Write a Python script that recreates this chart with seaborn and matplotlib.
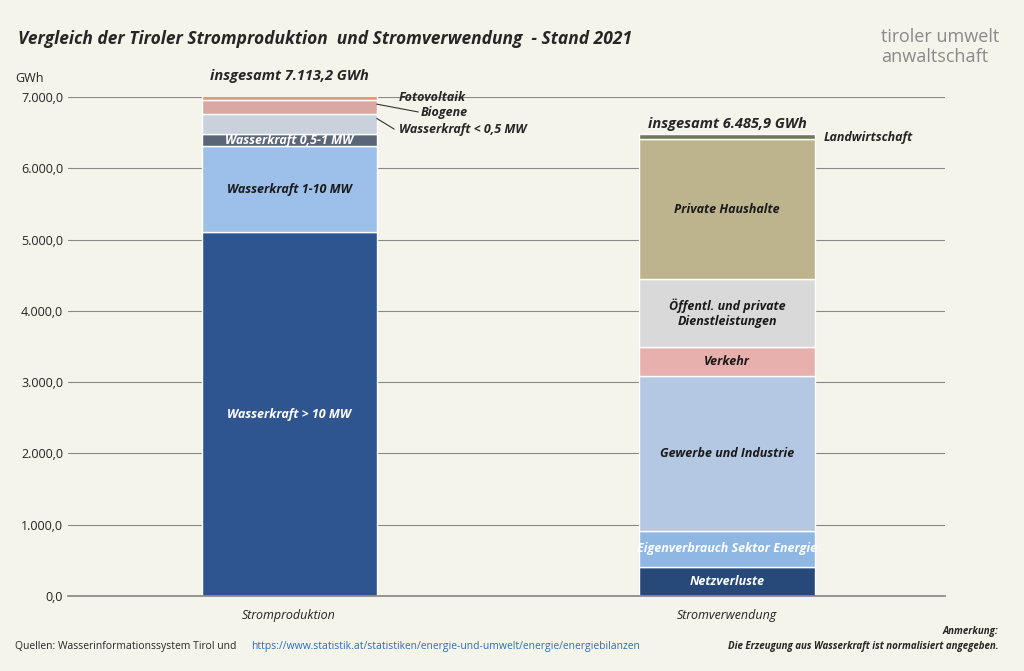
import matplotlib
matplotlib.use("Agg")
import matplotlib.pyplot as plt
import seaborn as sns
import numpy as np

sns.set_theme(style="white")
plt.rcParams["font.family"] = "Open Sans"

categories = ["Stromproduktion", "Stromverwendung"]
prod_labels = ["Wasserkraft > 10 MW", "Wasserkraft 1-10 MW", "Wasserkraft 0,5-1 MW",
               "Wasserkraft < 0,5 MW", "Biogene", "Fotovoltaik"]
prod_values = [5105, 1206, 169, 280, 196, 157.2]
prod_colors = ["#2f5590", "#9cc0ea", "#5a6678", "#c9d2dc", "#d9a8a2", "#e89a72"]

use_labels = ["Netzverluste", "Eigenverbrauch Sektor Energie", "Gewerbe und Industrie",
              "Verkehr", "Öffentl. und private\nDienstleistungen", "Private Haushalte", "Landwirtschaft"]
use_values = [407, 505, 2174, 406, 954, 1964, 75.9]
use_colors = ["#27497a", "#8fb7e4", "#b4c8e4", "#e8b0ad", "#d9d9d9", "#bdb48e", "#6e7a5a"]

fig = plt.figure(figsize=(10.24, 6.71), dpi=100)
fig.patch.set_facecolor("#f4f4ea")
ax = fig.add_axes([68 / 1024, 75 / 671, 877 / 1024, 499 / 671])
ax.set_facecolor("#f4f4ea")

width = 0.40
x = np.arange(2)
fs = 9
bottom = 0
for v, c, l in zip(prod_values, prod_colors, prod_labels):
    ax.bar(x[0], v, width, bottom=bottom, color=c, edgecolor="white", linewidth=1)
    if l in ("Wasserkraft > 10 MW", "Wasserkraft 1-10 MW", "Wasserkraft 0,5-1 MW"):
        ax.text(x[0], bottom + v / 2, l, ha="center", va="center", fontsize=fs, style="italic",
                fontweight="bold", color="#1a1a1a" if l == "Wasserkraft 1-10 MW" else "white")
    bottom += v
lx = x[0] + width / 2 + 0.05
ax.text(lx, 6990, "Fotovoltaik", fontsize=fs, style="italic", fontweight="bold", va="center")
ax.text(lx + 0.05, 6780, "Biogene", fontsize=fs, style="italic", fontweight="bold", va="center")
ax.text(lx, 6540, "Wasserkraft < 0,5 MW", fontsize=fs, style="italic", fontweight="bold", va="center")
ax.plot([x[0] + width / 2, lx + 0.045], [6900, 6790], color="#333", lw=0.8)
ax.plot([x[0] + width / 2, lx - 0.01], [6700, 6550], color="#333", lw=0.8)
ax.text(x[0], sum(prod_values) + 130, "insgesamt 7.113,2 GWh", ha="center", fontsize=10.5,
        style="italic", fontweight="bold")

bottom = 0
for v, c, l in zip(use_values, use_colors, use_labels):
    ax.bar(x[1], v, width, bottom=bottom, color=c, edgecolor="white", linewidth=1)
    if l != "Landwirtschaft":
        ax.text(x[1], bottom + v / 2, l, ha="center", va="center", fontsize=fs, style="italic",
                fontweight="bold",
                color="white" if l in ("Netzverluste", "Eigenverbrauch Sektor Energie") else "#1a1a1a")
    bottom += v
ax.text(x[1] + width / 2 + 0.02, 6430, "Landwirtschaft", fontsize=fs, style="italic",
        fontweight="bold", va="center")
ax.text(x[1], sum(use_values) + 80, "insgesamt 6.485,9 GWh", ha="center", fontsize=10.5,
        style="italic", fontweight="bold")

ax.set_ylim(0, 7000)
ax.set_xlim(-0.505, 1.498)
ax.set_yticks(range(0, 7001, 1000))
ax.set_yticklabels(["0,0", "1.000,0", "2.000,0", "3.000,0", "4.000,0", "5.000,0", "6.000,0", "7.000,0"],
                   fontsize=9)
ax.set_xticks(x)
ax.set_xticklabels(categories, fontsize=9, style="italic")
ax.grid(axis="y", color="#888", linewidth=0.8)
ax.set_axisbelow(True)
for s in ["top", "right", "left"]:
    ax.spines[s].set_visible(False)
ax.spines["bottom"].set_color("#888")
ax.tick_params(axis="y", length=0)
ax.text(-0.06, 1.03, "GWh", transform=ax.transAxes, fontsize=9)

fig.text(0.018, 0.935, "Vergleich der Tiroler Stromproduktion  und Stromverwendung  - Stand 2021",
         fontsize=12.5, style="italic", fontweight="bold")
fig.text(0.86, 0.93, "tiroler umwelt\nanwaltschaft", fontsize=13, color="#8a8a8a", va="center")
fig.text(0.015, 0.033, "Quellen: Wasserinformationssystem Tirol und ", fontsize=7.5)
fig.text(0.245, 0.033, "https://www.statistik.at/statistiken/energie-und-umwelt/energie/energiebilanzen",
         fontsize=7.5, color="#2a6fbf")
fig.text(0.975, 0.055, "Anmerkung:", fontsize=7, style="italic", fontweight="bold", ha="right")
fig.text(0.975, 0.033, "Die Erzeugung aus Wasserkraft ist normalisiert angegeben.", fontsize=7,
         style="italic", fontweight="bold", ha="right")

fig.savefig("out.png", dpi=100, facecolor=fig.get_facecolor())
